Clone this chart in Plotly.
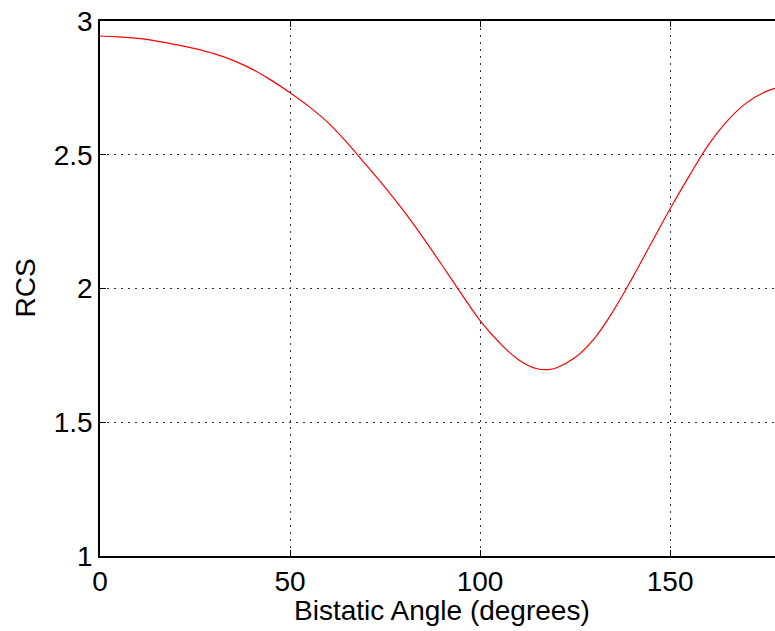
import plotly.graph_objects as go

angles = [0, 5, 10, 15, 20, 25, 30, 35, 40, 45, 50, 55, 60, 65, 70, 75, 80, 85, 90,
          95, 100, 105, 110, 115, 118, 120, 125, 130, 135, 140, 145, 150, 155, 160,
          165, 170, 175, 177.6]
rcs = [2.944, 2.941, 2.935, 2.925, 2.912, 2.897, 2.878, 2.853, 2.820, 2.779, 2.732,
       2.680, 2.620, 2.545, 2.462, 2.378, 2.288, 2.190, 2.087, 1.982, 1.880, 1.799,
       1.735, 1.700, 1.697, 1.703, 1.742, 1.812, 1.915, 2.038, 2.168, 2.298, 2.420,
       2.535, 2.626, 2.693, 2.735, 2.748]

x_ticks = [0, 50, 100, 150]
y_ticks = [1, 1.5, 2, 2.5, 3]
y_tick_text = ["1", "1.5", "2", "2.5", "3"]
x_title = "Bistatic Angle (degrees)"
y_title = "RCS"

font = dict(family="Liberation Sans, Arial, sans-serif", size=28, color="black")

fig = go.Figure()
fig.add_trace(go.Scatter(x=angles, y=rcs, mode="lines",
                         line=dict(color="red", width=1.2, shape="spline"),
                         showlegend=False))

fig.update_layout(
    width=775, height=631,
    margin=dict(l=100, r=0, t=21, b=75, autoexpand=False),
    paper_bgcolor="white", plot_bgcolor="white",
    font=font,
    annotations=[
        dict(text=x_title, xref="paper", yref="paper", x=0.5, y=0,
             xanchor="center", yanchor="middle", xshift=4, yshift=-54,
             showarrow=False, font=font),
        dict(text=y_title, xref="paper", yref="paper", x=0, y=0.5,
             xanchor="center", yanchor="middle", xshift=-75, textangle=-90,
             showarrow=False, font=font),
    ],
)
grid_dash = "2px,5px"
fig.update_xaxes(
    range=[0, 177.6], tickvals=x_ticks, ticks="inside", ticklen=6,
    tickcolor="black", showline=True, linecolor="black", linewidth=1.5, mirror="ticks",
    showgrid=True, gridcolor="#333333", griddash=grid_dash, gridwidth=1,
    zeroline=False, tickfont=font, automargin=False, ticklabeloverflow="allow",
)
fig.update_yaxes(
    range=[1, 3], tickvals=y_ticks, ticktext=y_tick_text, ticks="inside", ticklen=6,
    tickcolor="black", showline=True, linecolor="black", linewidth=1.5,
    showgrid=True, gridcolor="#333333", griddash=grid_dash, gridwidth=1,
    zeroline=False, tickfont=font, automargin=False, ticklabeloverflow="allow",
)

# remove the default page margin so the figure sits at the window's top-left corner
fig.write_html("out.html", config={"displayModeBar": False},
               post_script="document.body.style.margin='0';document.body.style.overflow='hidden';")
